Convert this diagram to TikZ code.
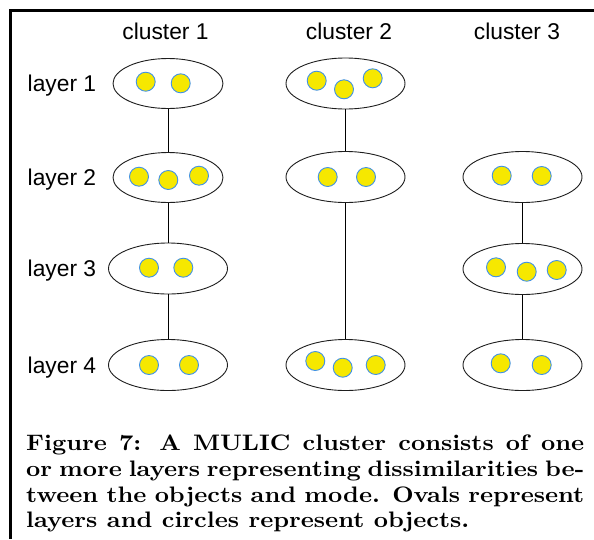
\documentclass[tikz,border=0pt]{standalone}
\usepackage{graphicx}
\usepackage{fontspec}
\newfontfamily\labelfont{Liberation Sans}
\usetikzlibrary{shapes.geometric}
\definecolor{objfill}{RGB}{246,232,0}
\definecolor{objline}{RGB}{64,145,230}
\definecolor{ovalline}{RGB}{30,30,30}
\begin{document}
\begin{tikzpicture}[x=1pt,y=-1pt,
  oval/.style={ellipse, draw=ovalline, line width=0.9pt, fill=white,
    inner sep=0pt, minimum width=119pt, minimum height=51pt},
  smalloval/.style={oval, minimum width=110pt, minimum height=50pt},
  obj/.style={circle, draw=objline, fill=objfill, line width=0.9pt,
    inner sep=0pt, minimum size=19pt},
  link/.style={draw=black, line width=0.8pt},
  heading/.style={font=\labelfont\fontsize{22.8}{26}\selectfont, inner sep=0pt, anchor=base},
  layerlabel/.style={heading, anchor=base west},
  captiontext/.style={inner sep=0pt, anchor=base west}
]
\useasboundingbox (0,0) rectangle (594,539);

% frame rules
\fill[black] (9,9) rectangle (12,539);
\fill[black] (9,9.3) rectangle (594,11.7);

% column headings
\node[heading] (h1) at (165.5,39.5) {cluster 1};
\node[heading] (h2) at (349,39.5) {cluster 2};
\node[heading] (h3) at (517,39.5) {cluster 3};

% row labels
\node[layerlabel] (r1) at (27.5,91.5) {layer 1};
\node[layerlabel] (r2) at (27.5,185.5) {layer 2};
\node[layerlabel] (r3) at (27.5,276.5) {layer 3};
\node[layerlabel] (r4) at (27.5,373) {layer 4};

% layers (ovals)
\node[smalloval] (c1l1) at (168,83.5) {};
\node[smalloval] (c1l2) at (168,177.5) {};
\node[oval] (c1l3) at (168,268.5) {};
\node[oval] (c1l4) at (168,365) {};

\node[oval] (c2l1) at (345.5,83.5) {};
\node[oval] (c2l2) at (345.5,177) {};
\node[oval] (c2l4) at (345.5,365) {};

\node[oval] (c3l2) at (522.5,177) {};
\node[oval] (c3l3) at (522.5,269) {};
\node[oval] (c3l4) at (522.5,365) {};

% links between layers of a cluster
\draw[link] (c1l1) -- (c1l2);
\draw[link] (c1l2) -- (c1l3);
\draw[link] (c1l3) -- (c1l4);
\draw[link] (c2l1) -- (c2l2);
\draw[link] (c2l2) -- (c2l4);
\draw[link] (c3l2) -- (c3l3);
\draw[link] (c3l3) -- (c3l4);

% objects
\node[obj] (o111) at (145.7,81.7) {};
\node[obj] (o112) at (180.7,83.3) {};
\node[obj] (o121) at (139,176.7) {};
\node[obj] (o122) at (168.3,180) {};
\node[obj] (o123) at (199,175.7) {};
\node[obj] (o131) at (149,267.7) {};
\node[obj] (o132) at (183.3,267.7) {};
\node[obj] (o141) at (149,365) {};
\node[obj] (o142) at (189,365) {};

\node[obj] (o211) at (316.7,80.7) {};
\node[obj] (o212) at (344,89.3) {};
\node[obj] (o213) at (372.7,78.3) {};
\node[obj] (o221) at (327.7,177) {};
\node[obj] (o222) at (366,177) {};
\node[obj] (o241) at (315.3,361) {};
\node[obj] (o242) at (342.7,367.7) {};
\node[obj] (o243) at (375.7,365) {};

\node[obj] (o321) at (501.7,175.7) {};
\node[obj] (o322) at (541.7,176) {};
\node[obj] (o331) at (496,267.3) {};
\node[obj] (o332) at (526.7,271.7) {};
\node[obj] (o333) at (556.7,270) {};
\node[obj] (o341) at (500.7,363.3) {};
\node[obj] (o342) at (541.7,365) {};

% caption
\node[captiontext] (caption) at (26,450.8) {\scalebox{2.477}[2.24]{\parbox[t]{225.3pt}{%
  \fontsize{10}{11.43}\selectfont\bfseries
  Figure 7: A MULIC cluster consists of one\linebreak
  or more layers representing dissimilarities be-\linebreak
  tween the objects and mode. Ovals represent\linebreak
  layers and circles represent objects.}}};
\end{tikzpicture}
\end{document}
